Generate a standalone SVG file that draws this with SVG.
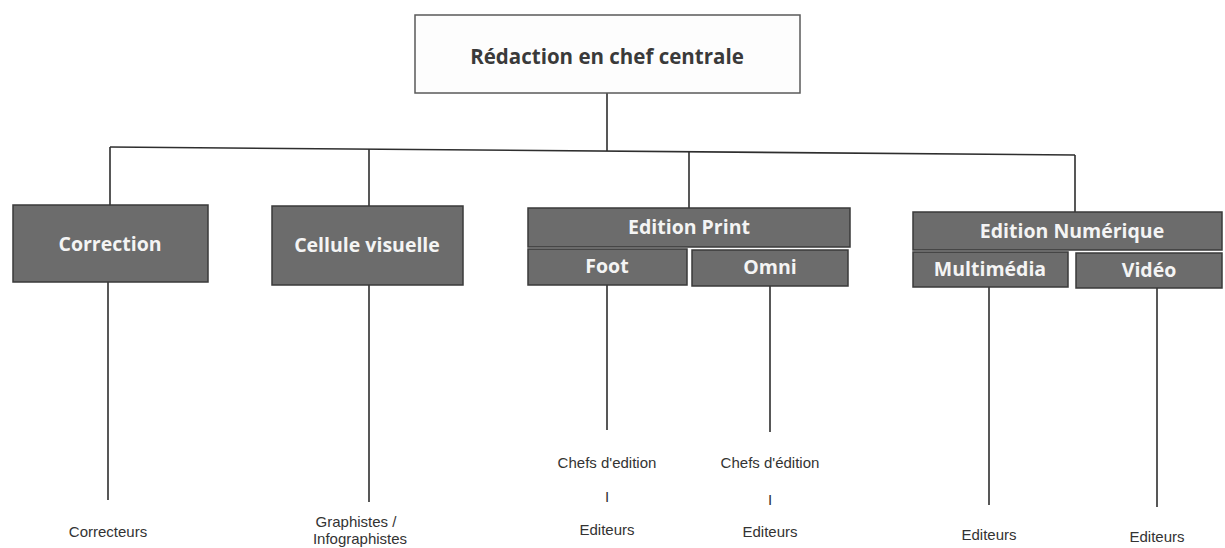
<svg xmlns="http://www.w3.org/2000/svg" width="1225" height="548" viewBox="0 0 1225 548">
<style>
.top{fill:#fdfdfd;stroke:#5a5a5a;stroke-width:1.5}
.dk{fill:#6c6c6c;stroke:#3a3a3a;stroke-width:1.5}
.tt{font-family:"Open Sans","Noto Sans",sans-serif;font-weight:bold;font-size:20.5px;fill:#3a3a3a;text-anchor:middle}
.bt{font-family:"Open Sans","Noto Sans",sans-serif;font-weight:bold;font-size:19.5px;fill:#f4f4f4;text-anchor:middle}
.lt{font-family:"Liberation Sans",Arial,sans-serif;font-size:15px;fill:#333;text-anchor:middle}
.ln{stroke:#2e2e2e;stroke-width:1.6;fill:none}
</style>
<rect width="1225" height="548" fill="#fff"/>
<g id="connectors">
<line class="ln" x1="607" y1="93" x2="607" y2="151"/>
<line class="ln" x1="110" y1="147" x2="1075" y2="155"/>
<line class="ln" x1="110" y1="147" x2="110" y2="205"/>
<line class="ln" x1="369" y1="149" x2="369" y2="206"/>
<line class="ln" x1="689" y1="152" x2="689" y2="208"/>
<line class="ln" x1="1075" y1="155" x2="1075" y2="212"/>
<line class="ln" x1="108" y1="282" x2="108" y2="500"/>
<line class="ln" x1="369" y1="285" x2="369" y2="502"/>
<line class="ln" x1="607" y1="285" x2="607" y2="430"/>
<line class="ln" x1="770" y1="286" x2="770" y2="432"/>
<line class="ln" x1="989" y1="287" x2="989" y2="505"/>
<line class="ln" x1="1157" y1="288" x2="1157" y2="507"/>
</g>
<g id="redaction">
<rect class="top" x="415" y="15" width="385" height="78"/>
<text class="tt" x="607" y="64">Rédaction en chef centrale</text>
</g>
<g id="correction">
<rect class="dk" x="13" y="205" width="195" height="77"/>
<text class="bt" x="110" y="251">Correction</text>
</g>
<g id="cellule">
<rect class="dk" x="272" y="206" width="191" height="79"/>
<text class="bt" x="367" y="252">Cellule visuelle</text>
</g>
<g id="edition-print">
<rect class="dk" x="528" y="208" width="322" height="39"/>
<text class="bt" x="689" y="234">Edition Print</text>
</g>
<g id="foot">
<rect class="dk" x="528" y="249" width="159" height="36"/>
<text class="bt" x="607" y="273">Foot</text>
</g>
<g id="omni">
<rect class="dk" x="692" y="250" width="156" height="36"/>
<text class="bt" x="770" y="274">Omni</text>
</g>
<g id="edition-numerique">
<rect class="dk" x="913" y="212" width="309" height="38"/>
<text class="bt" x="1072" y="238">Edition Numérique</text>
</g>
<g id="multimedia">
<rect class="dk" x="913" y="252" width="155" height="35"/>
<text class="bt" x="990" y="276">Multimédia</text>
</g>
<g id="video">
<rect class="dk" x="1076" y="253" width="146" height="35"/>
<text class="bt" x="1149" y="277">Vidéo</text>
</g>
<g id="correcteurs"><text class="lt" x="108" y="537">Correcteurs</text></g>
<g id="graphistes"><text class="lt" x="356" y="527">Graphistes /</text><text class="lt" x="360" y="544">Infographistes</text></g>
<g id="foot-chefs"><text class="lt" x="607" y="468">Chefs d'edition</text><text class="lt" x="607" y="502">I</text></g>
<g id="foot-editeurs"><text class="lt" x="607" y="535">Editeurs</text></g>
<g id="omni-chefs"><text class="lt" x="770" y="468">Chefs d'édition</text><text class="lt" x="770" y="505">I</text></g>
<g id="omni-editeurs"><text class="lt" x="770" y="537">Editeurs</text></g>
<g id="multi-editeurs"><text class="lt" x="989" y="540">Editeurs</text></g>
<g id="video-editeurs"><text class="lt" x="1157" y="542">Editeurs</text></g>
</svg>
